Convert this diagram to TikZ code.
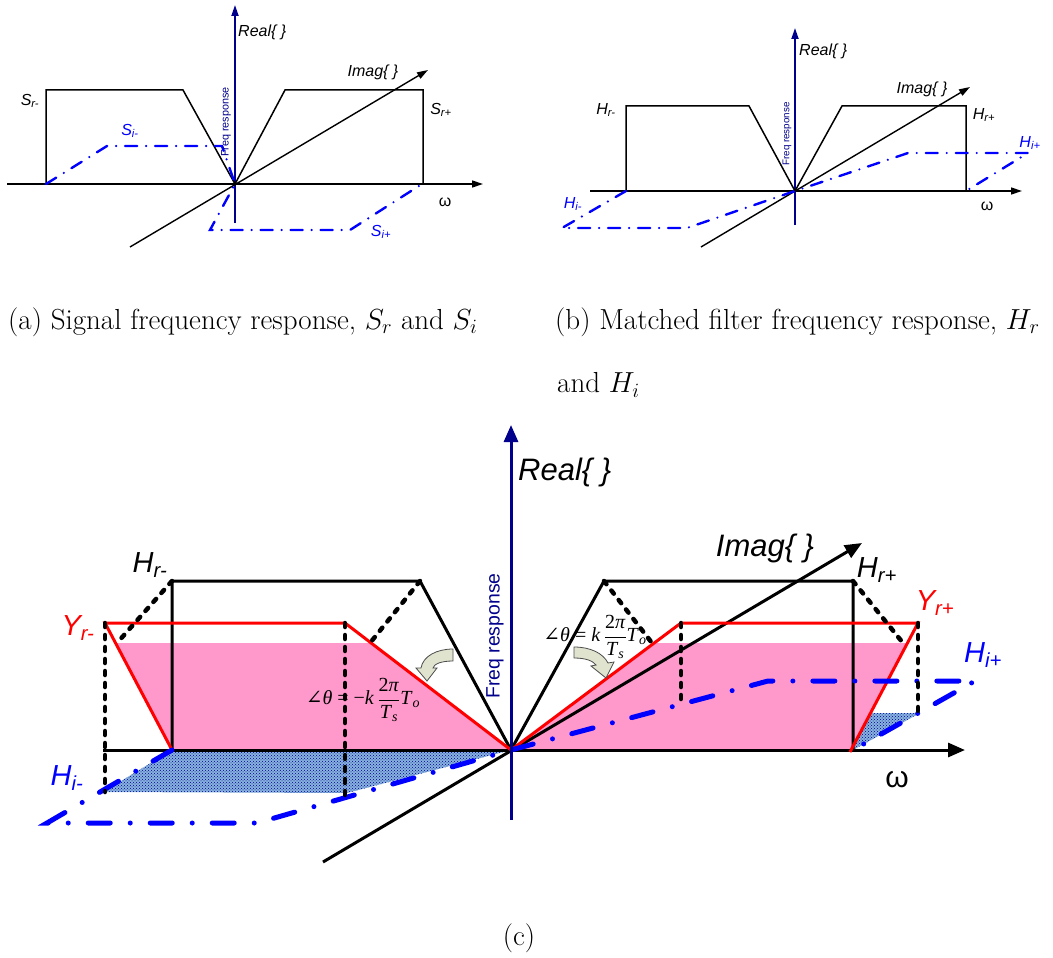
\documentclass[tikz,border=0pt]{standalone}
\usepackage{fix-cm}
\usepackage{fontspec}
\newfontfamily\arial{Liberation Sans}
\newfontfamily\tnr{Liberation Serif}
\newfontfamily\dejaserif{DejaVu Serif}
\usetikzlibrary{arrows.meta,patterns}
\definecolor{navy}{RGB}{0,0,140}
\definecolor{pinkfill}{RGB}{255,153,204}
\definecolor{hatchblue}{RGB}{135,178,222}
\definecolor{arrowfill}{RGB}{224,228,206}
\newcommand{\sub}[2]{#1\textsubscript{#2}}
\newcommand{\phasefrac}{$\displaystyle\frac{\mbox{2\textit{π}}}{\mbox{\textit{T}\textsubscript{\textit{s}}}}$}
\begin{document}
\begin{tikzpicture}[x=1pt, y=-1pt,
  small/.style={font=\arial\itshape\fontsize{16}{18}\selectfont, inner sep=0pt},
  large/.style={font=\arial\itshape\fontsize{29}{32}\selectfont, inner sep=0pt},
  freq/.style={rotate=90, navy, font=\arial, inner sep=0pt},
  thinaxis/.style={line width=1.4pt, -{Triangle[length=11pt,width=7pt]}},
  thickaxis/.style={line width=3pt, -{Triangle[length=17pt,width=14pt]}},
  dashdotthin/.style={blue, line width=2.4pt, line cap=round, dash pattern=on 12pt off 9pt on 0pt off 9pt},
  dashdotthick/.style={blue, line width=5pt, line cap=round, dash pattern=on 22pt off 20pt on 0pt off 20pt},
  dotline/.style={line width=4.5pt, line cap=round, dash pattern=on 4pt off 8pt},
  hatch/.style={fill=hatchblue, postaction={pattern=crosshatch dots, pattern color=blue!55!black}},
  turnarrow/.style={fill=arrowfill, draw=black!70, line width=0.8pt},
  phase/.style={inner sep=0pt, font=\tnr\fontsize{20}{23}\selectfont},
  caption/.style={font=\fontsize{29}{34}\selectfont, inner sep=0pt, anchor=west}]
\useasboundingbox (0,0) rectangle (1053,958);

% (a) signal
\coordinate (oa) at (235,184);
\draw[thinaxis] (7,184) -- (483,184);
\draw[thinaxis, navy, line width=1.8pt] (235,223) -- (235,5);
\draw[thinaxis] (130,247) -- (428,70);
\draw[line width=1.5pt] (46,184) -- (46,90) -- (183,90) -- (oa) -- (285,90) -- (423,90) -- (423,184);
\draw[dashdotthin] (46,184) -- (107,146) -- (222,146) -- (oa) -- (210,230) -- (350,230) -- (422,184);
\node[small, anchor=west] (reala) at (238,32) {Real\{ \}};
\node[small] (imaga) at (373,72) {Imag\{ \}};
\node[small] (sra) at (30,101) {\sub{S}{r-}};
\node[small] (srb) at (441,110) {\sub{S}{r+}};
\node[small, blue] (sia) at (130,131) {\sub{S}{i-}};
\node[small, blue] (sib) at (381,232) {\sub{S}{i+}};
\node[small, font=\arial\fontsize{16}{18}\selectfont] (wa) at (445,202) {ω};
\node[freq, font=\arial\fontsize{10.8}{12}\selectfont] (fra) at (226,122) {Freq response};

% (b) matched filter
\coordinate (ob) at (795,191);
\draw[thinaxis] (590,191) -- (1022,191);
\draw[thinaxis, navy, line width=1.8pt] (795,225) -- (795,28);
\draw[thinaxis] (701,247) -- (970,87);
\draw[line width=1.5pt] (626,191) -- (626,106) -- (749,106) -- (ob) -- (842,106) -- (966,106) -- (966,191);
\draw[dashdotthin] (626,191) -- (562,228) -- (687,228) -- (ob) -- (908,153) -- (1028,153) -- (966,191);
\node[small, anchor=west] (realb) at (799,51) {Real\{ \}};
\node[small] (imagb) at (922,89) {Imag\{ \}};
\node[small] (hra) at (606,110) {\sub{H}{r-}};
\node[small] (hrb) at (984,115) {\sub{H}{r+}};
\node[small, blue] (hia) at (573,204) {\sub{H}{i-}};
\node[small, blue] (hib) at (1030,143) {\sub{H}{i+}};
\node[small, font=\arial\fontsize{16}{18}\selectfont] (wb) at (987,206) {ω};
\node[freq, font=\arial\fontsize{9.8}{11}\selectfont] (frb) at (787,134) {Freq response};

\node[caption] (capa) at (8,322) {(a) Signal frequency response, $S_r$ and $S_i$};
\node[caption] (capb) at (555,322) {(b) Matched filter frequency response, $H_r$};
\node[caption] (capb2) at (557,385) {and $H_i$};

% (c) output
\coordinate (oc) at (511,750);
\begin{scope}
  \clip (0,643) rectangle (1053,750);
  \fill[pinkfill] (105,623) -- (345,623) -- (oc) -- (172,750) -- cycle;
  \fill[pinkfill] (oc) -- (681,623) -- (918,623) -- (850,752) -- cycle;
\end{scope}
\fill[hatch] (172,750) -- (103,792) -- (347,793) -- (oc) -- cycle;
\fill[hatch] (853,750) -- (870,713) -- (920,713) -- cycle;

\draw[thickaxis] (103,750) -- (965,750);
\draw[thickaxis] (323,862) -- (862,543);
\draw[line width=3pt] (172,750) -- (172,581) -- (420,581) -- (oc) -- (604,581) -- (853,581) -- (853,750);
\draw[red, line width=3pt] (172,750) -- (105,623) -- (345,623) -- (oc) -- (681,623) -- (918,623) -- (850,752);
\draw[dashdotthick] (172,750) -- (47,823) -- (257,823) -- (oc) -- (768,681) -- (975,681) -- (853,750);

\draw[dotline] (105,623) -- (105,792);
\draw[dotline] (345,623) -- (345,795);
\draw[dotline] (681,623) -- (681,706);
\draw[dotline] (918,623) -- (918,712);
\draw[dotline] (172,581) -- (117,643);
\draw[dotline] (420,581) -- (370,643);
\draw[dotline] (604,581) -- (652,643);
\draw[dotline] (853,581) -- (903,643);

\draw[thickaxis, navy] (511,820) -- (511,425);

\draw[turnarrow] (453,649) -- (453,661) .. controls (441,661) and (434,664) .. (433,668)
  -- (437,668) -- (427,681) -- (416,668) -- (421,668) .. controls (423,656) and (437,649) .. (453,649) -- cycle;
\draw[turnarrow] (574,647) -- (574,658) .. controls (586,658) and (593,661) .. (596,665)
  -- (591,666) -- (606,678) -- (614,662) -- (608,663) .. controls (603,653) and (590,647) .. (574,647) -- cycle;

\node[large, anchor=west, font=\arial\itshape\fontsize{31}{34}\selectfont] (realc) at (518,472) {Real\{ \}};
\node[large, font=\arial\itshape\fontsize{31}{34}\selectfont] (imagc) at (765,548) {Imag\{ \}};
\node[large] (hrc) at (150,565) {\sub{H}{r-}};
\node[large] (hrd) at (877,570) {\sub{H}{r+}};
\node[large, red] (yrc) at (78,628) {\sub{Y}{r-}};
\node[large, red] (yrd) at (935,603) {\sub{Y}{r+}};
\node[large, blue] (hic) at (67,778) {\sub{H}{i-}};
\node[large, blue] (hid) at (983,655) {\sub{H}{i+}};
\node[large, font=\arial\fontsize{30}{33}\selectfont] (wc) at (897,780) {ω};
\node[freq, font=\arial\fontsize{19.4}{22}\selectfont] (frc) at (495,636) {Freq response};

\node[phase] (eqa) at (363,700) {{\dejaserif ∠}\textit{θ} = −\textit{k}\,\phasefrac\textit{T}\textsubscript{\textit{o}}};
\node[phase] (eqb) at (595,637) {{\dejaserif ∠}\textit{θ} = \textit{k}\,\phasefrac\textit{T}\textsubscript{\textit{o}}};

\node[font=\fontsize{29}{34}\selectfont, inner sep=0pt] (capc) at (519,938) {(c)};
\end{tikzpicture}
\end{document}
